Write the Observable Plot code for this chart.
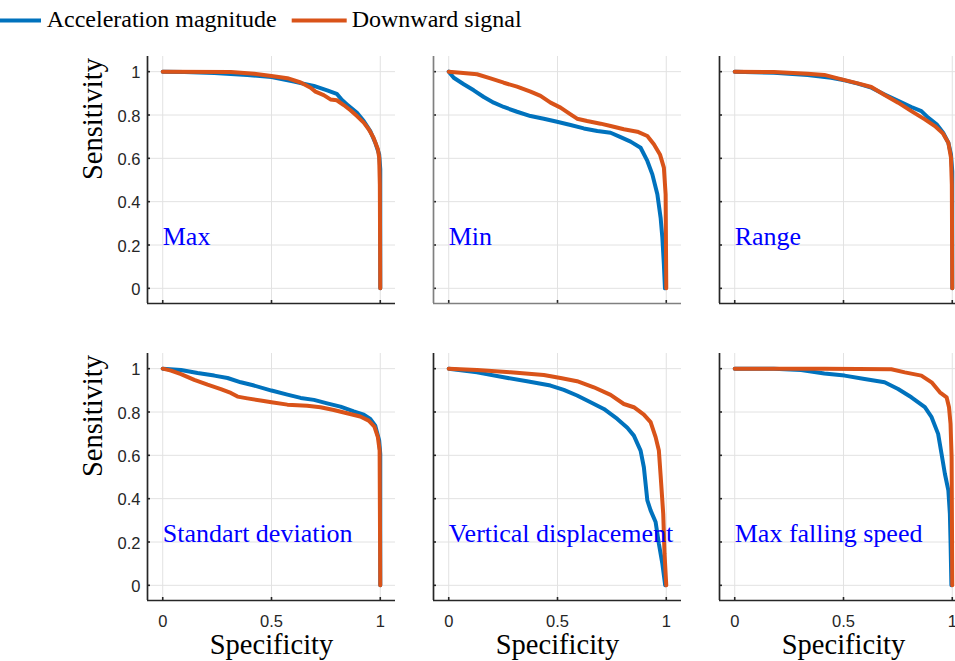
<!DOCTYPE html>
<html><head><meta charset="utf-8">
<script src="https://cdn.jsdelivr.net/npm/d3@7"></script>
<script src="https://cdn.jsdelivr.net/npm/@observablehq/plot@0.6"></script>
<style>
html,body{margin:0;padding:0;background:#fff;overflow:hidden;}
#fig{position:relative;width:955px;height:661px;overflow:hidden;background:#fff;}
#fig > svg{position:absolute;}
#legend text{font-family:"Liberation Serif","Times New Roman",serif;font-size:24px;fill:#000;}
</style></head><body><div id="fig"></div>
<script>
// ---- data (specificity, sensitivity) ----
const seriesNames = ["Acceleration magnitude", "Downward signal"];
const panelNames = ["Max", "Min", "Range", "Standart deviation", "Vertical displacement", "Max falling speed"];
const xTicks = [0, 0.5, 1];
const yTicks = [0, 0.2, 0.4, 0.6, 0.8, 1];

const maxAcc = [[0,1],[0.1,0.998],[0.237,0.994],[0.389,0.985],[0.5,0.975],[0.603,0.954],[0.695,0.934],[0.756,0.914],[0.8,0.898],[0.823,0.87],[0.847,0.849],[0.893,0.81],[0.924,0.772],[0.954,0.726],[0.977,0.672],[0.995,0.618],[1,0.55],[1,0]];
const maxDown = [[0,1],[0.313,0.998],[0.42,0.99],[0.5,0.98],[0.573,0.97],[0.634,0.95],[0.68,0.926],[0.702,0.908],[0.74,0.892],[0.771,0.872],[0.8,0.868],[0.832,0.846],[0.863,0.822],[0.893,0.795],[0.924,0.765],[0.947,0.734],[0.969,0.695],[0.989,0.642],[0.995,0.603],[0.998,0.48],[1,0]];

const minAcc = [[0,1],[0.023,0.972],[0.069,0.942],[0.115,0.914],[0.161,0.883],[0.207,0.857],[0.253,0.837],[0.314,0.815],[0.376,0.795],[0.437,0.783],[0.498,0.769],[0.56,0.754],[0.621,0.738],[0.683,0.726],[0.744,0.718],[0.79,0.698],[0.836,0.677],[0.882,0.649],[0.913,0.588],[0.936,0.526],[0.959,0.434],[0.974,0.326],[0.982,0.234],[0.989,0.111],[0.994,0]];
const minDown = [[0,1],[0.054,0.995],[0.13,0.988],[0.192,0.969],[0.253,0.949],[0.314,0.931],[0.376,0.908],[0.422,0.888],[0.468,0.857],[0.514,0.834],[0.56,0.803],[0.59,0.783],[0.636,0.772],[0.698,0.76],[0.744,0.749],[0.805,0.734],[0.867,0.723],[0.913,0.703],[0.943,0.665],[0.971,0.618],[0.989,0.557],[0.997,0.434],[1,0]];

const rangeAcc = [[0,1],[0.18,0.995],[0.335,0.985],[0.443,0.972],[0.505,0.96],[0.566,0.945],[0.628,0.926],[0.689,0.895],[0.751,0.865],[0.812,0.837],[0.858,0.818],[0.889,0.788],[0.928,0.757],[0.958,0.718],[0.982,0.672],[0.994,0.618],[1,0.54],[1,0]];
const rangeDown = [[0,1],[0.18,0.998],[0.335,0.99],[0.412,0.985],[0.474,0.969],[0.566,0.946],[0.628,0.929],[0.689,0.892],[0.751,0.857],[0.812,0.818],[0.874,0.78],[0.92,0.749],[0.958,0.714],[0.982,0.672],[0.994,0.603],[0.998,0.48],[1,0]];

const stdAcc = [[0,1],[0.084,0.994],[0.16,0.98],[0.237,0.968],[0.298,0.957],[0.359,0.937],[0.42,0.922],[0.5,0.899],[0.573,0.88],[0.634,0.865],[0.695,0.856],[0.756,0.84],[0.817,0.825],[0.878,0.803],[0.924,0.788],[0.954,0.768],[0.977,0.737],[0.995,0.668],[1,0.607],[1,0]];
const stdDown = [[0,1],[0.038,0.991],[0.084,0.975],[0.145,0.948],[0.206,0.926],[0.267,0.906],[0.313,0.888],[0.344,0.871],[0.389,0.863],[0.45,0.853],[0.5,0.845],[0.573,0.834],[0.664,0.829],[0.725,0.822],[0.786,0.809],[0.847,0.794],[0.908,0.779],[0.947,0.76],[0.973,0.733],[0.989,0.684],[0.997,0.622],[1,0]];

const vertAcc = [[0,1],[0.13,0.983],[0.253,0.96],[0.36,0.942],[0.468,0.922],[0.529,0.902],[0.59,0.876],[0.652,0.845],[0.713,0.814],[0.775,0.768],[0.821,0.727],[0.851,0.691],[0.882,0.622],[0.897,0.545],[0.913,0.392],[0.928,0.346],[0.951,0.292],[0.966,0.192],[0.982,0.1],[0.992,0.023],[0.995,0]];
const vertDown = [[0,1],[0.13,0.994],[0.284,0.983],[0.437,0.971],[0.514,0.957],[0.59,0.942],[0.667,0.914],[0.744,0.879],[0.805,0.837],[0.851,0.822],[0.897,0.788],[0.928,0.753],[0.951,0.684],[0.966,0.622],[0.974,0.507],[0.986,0.33],[0.992,0.146],[1,0]];

const fallAcc = [[0,1],[0.18,1],[0.305,0.994],[0.412,0.978],[0.505,0.968],[0.597,0.952],[0.689,0.937],[0.751,0.906],[0.812,0.868],[0.874,0.822],[0.905,0.776],[0.935,0.699],[0.951,0.605],[0.966,0.515],[0.982,0.438],[0.989,0.33],[0.992,0.207],[0.996,0]];
const fallDown = [[0,1],[0.2,1],[0.412,1],[0.72,0.997],[0.782,0.983],[0.858,0.968],[0.905,0.937],[0.943,0.891],[0.974,0.868],[0.985,0.822],[0.992,0.745],[0.997,0.591],[1,0]];

const accData = [maxAcc, minAcc, rangeAcc, stdAcc, vertAcc, fallAcc];
const downData = [maxDown, minDown, rangeDown, stdDown, vertDown, fallDown];

// ---- styling / layout ----
const BLUE = "#0072BD", ORANGE = "#D95319", INK = "#262626";
const SERIF = "Liberation Serif";
const SANS = "'Liberation Sans',Arial,sans-serif";
const W = 248, H = 247, ML = 75, MR = 6, MT = 6, MB = 62;
const DOM = [-0.07, 1.07];
const colLeft = [147, 433, 719];
const rowTop = [55.5, 353];
const fmt = d => String(d);

const fig = document.getElementById("fig");

// legend
const leg = d3.select(fig).append("svg").attr("id", "legend").attr("width", 955).attr("height", 40)
  .style("left", "0px").style("top", "0px");
const legItems = [
  {x1: -14, x2: 41, tx: 46.7, color: BLUE, label: seriesNames[0]},
  {x1: 291.7, x2: 346.7, tx: 351.7, color: ORANGE, label: seriesNames[1]}
];
for (const it of legItems) {
  leg.append("line").attr("x1", it.x1).attr("x2", it.x2).attr("y1", 20.5).attr("y2", 20.5)
    .attr("stroke", it.color).attr("stroke-width", 4);
  leg.append("text").attr("x", it.tx).attr("y", 27).text(it.label);
}

panelNames.forEach((name, i) => {
  const row = Math.floor(i / 3), col = i % 3;
  const axisColor = i === 1 ? "#808080" : INK;
  const marks = [
    Plot.ruleX(xTicks, {x: d => d, stroke: "#e2e2e2", strokeWidth: 1}),
    Plot.ruleY(yTicks, {y: d => d, stroke: "#e2e2e2", strokeWidth: 1}),
    Plot.line(accData[i], {x: d => d[0], y: d => d[1], stroke: BLUE, strokeWidth: 4, strokeLinejoin: "round"}),
    Plot.line(downData[i], {x: d => d[0], y: d => d[1], stroke: ORANGE, strokeWidth: 4, strokeLinejoin: "round"}),
    Plot.tickX(xTicks, {x: d => d, insetTop: H - 3, stroke: INK, strokeWidth: 1.6}),
    Plot.tickY(yTicks, {y: d => d, insetRight: W - 3, stroke: INK, strokeWidth: 1.6}),
    Plot.ruleX([DOM[0]], {x: d => d, stroke: axisColor, strokeWidth: 1.7}),
    Plot.ruleY([DOM[0]], {y: d => d, stroke: axisColor, strokeWidth: 1.7}),
    Plot.text([name], {x: 0, y: 0.2, text: d => d, textAnchor: "start", lineAnchor: "bottom",
      fill: "#0000ff", fontFamily: SERIF, fontSize: 26})
  ];
  if (col === 0) {
    marks.push(Plot.axisY(yTicks, {tickSize: 0, tickPadding: 7, fontSize: 16.5, fill: INK, label: null, dy: 1.5, tickFormat: fmt}));
    marks.push(Plot.text(["Sensitivity"], {frameAnchor: "left", text: d => d, rotate: -90, dx: -46,
      lineAnchor: "bottom", fontFamily: SERIF, fontSize: 28.5, fill: "#000"}));
  }
  if (row === 1) {
    marks.push(Plot.axisX(xTicks, {tickSize: 0, tickPadding: 15, fontSize: 16.5, fill: INK, label: null, tickFormat: fmt}));
    marks.push(Plot.text(["Specificity"], {frameAnchor: "bottom", text: d => d, dy: 53,
      lineAnchor: "bottom", fontFamily: SERIF, fontSize: 28.5, fill: "#000"}));
  }
  const svg = Plot.plot({
    width: ML + W + MR, height: MT + H + MB,
    marginLeft: ML, marginRight: MR, marginTop: MT, marginBottom: MB,
    x: {domain: DOM, axis: null},
    y: {domain: DOM, axis: null},
    style: `background:transparent;font-family:${SANS};overflow:visible;max-width:none;`,
    marks
  });
  svg.style.left = (colLeft[col] - ML) + "px";
  svg.style.top = (rowTop[row] - MT) + "px";
  fig.appendChild(svg);
});
</script></body></html>
